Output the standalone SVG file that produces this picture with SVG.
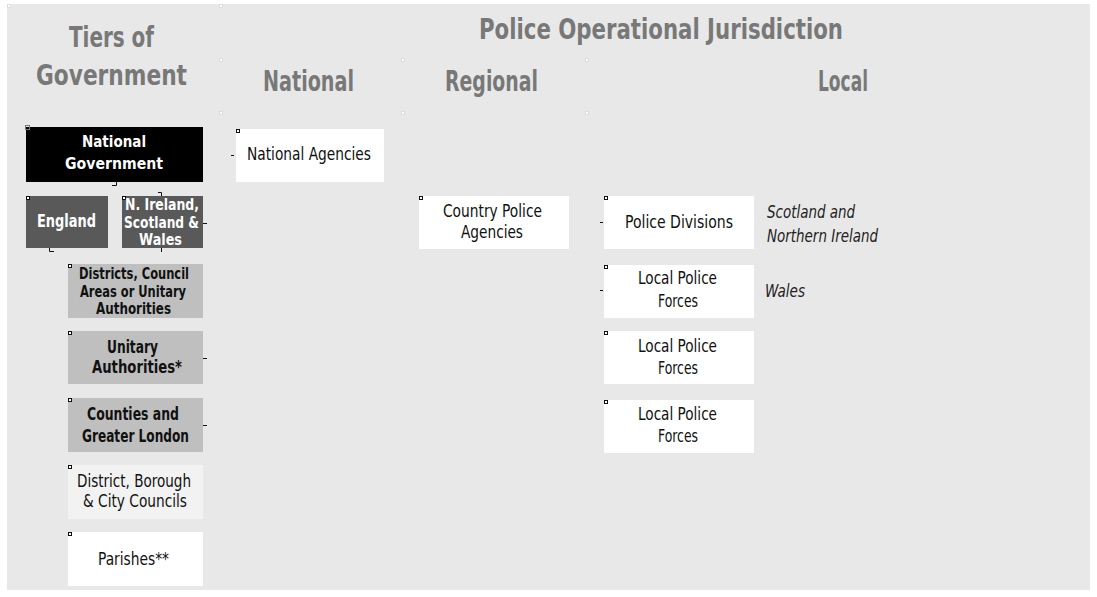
<svg xmlns="http://www.w3.org/2000/svg" width="1097" height="597" viewBox="0 0 1097 597">
<style>
text{font-family:"Liberation Sans Narrow","DejaVu Sans Condensed","Liberation Sans",sans-serif}
.t{font-size:29px;font-weight:bold;fill:#787878}
.r{font-size:18px;fill:#111}
.b{font-size:17px;font-weight:bold;fill:#111}
.w{font-size:16px;font-weight:bold;fill:#fff}
.i{font-size:18px;font-style:italic;fill:#222}
.h{fill:#fff;stroke:#111;stroke-width:1}
.hh{fill:#fff;stroke:#d8d8d8;stroke-width:0.8}
.tick{fill:none;stroke:#111;stroke-width:1}
</style>
<rect x="7" y="4" width="1083" height="586" fill="#e8e8e8"/>
<g id="header-handles">
<rect class="hh" x="7.5" y="4.5" width="3" height="3"/>
<rect class="hh" x="219.5" y="4.5" width="3" height="3"/>
<rect class="hh" x="219.5" y="58.5" width="3" height="3"/>
<rect class="hh" x="219.5" y="111.5" width="3" height="3"/>
<rect class="hh" x="401.5" y="58.5" width="3" height="3"/>
<rect class="hh" x="401.5" y="111.5" width="3" height="3"/>
<rect class="hh" x="585.5" y="58.5" width="3" height="3"/>
<rect class="hh" x="585.5" y="111.5" width="3" height="3"/>
</g>
<g id="titles">
<text class="t" x="69" y="47" textLength="85" lengthAdjust="spacingAndGlyphs">Tiers of</text>
<text class="t" x="36" y="85" textLength="151" lengthAdjust="spacingAndGlyphs">Government</text>
<text class="t" x="479" y="39" textLength="364" lengthAdjust="spacingAndGlyphs">Police Operational Jurisdiction</text>
<text class="t" x="263" y="91" textLength="91" lengthAdjust="spacingAndGlyphs">National</text>
<text class="t" x="445" y="91" textLength="93" lengthAdjust="spacingAndGlyphs">Regional</text>
<text class="t" x="818" y="91" textLength="50" lengthAdjust="spacingAndGlyphs">Local</text>
</g>
<g id="connectors">
<path class="tick" d="M116.5,182 V185.5 H112"/>
<path class="tick" d="M158,192.5 H161.5 V196"/>
<path class="tick" d="M49.5,248 V251.5 H54"/>
<path class="tick" d="M161.5,248 V252"/>
<path class="tick" d="M203,223.5 H207"/>
<path class="tick" d="M203,358.5 H207"/>
<path class="tick" d="M203,425.5 H207"/>
<path class="tick" d="M231,155.5 H234"/>
<path class="tick" d="M600,222.5 H603"/>
<path class="tick" d="M600,290.5 H603"/>
</g>
<g id="national-government">
<rect x="26" y="127" width="177" height="55" fill="#000"/>
<rect x="25.5" y="125.5" width="4" height="4" fill="none" stroke="#777" stroke-width="1"/>
<text class="w" x="82" y="147" textLength="64" lengthAdjust="spacingAndGlyphs">National</text>
<text class="w" x="65" y="169" textLength="98" lengthAdjust="spacingAndGlyphs">Government</text>
</g>
<g id="england">
<rect x="26" y="196" width="82" height="52" fill="#595959"/>
<rect class="h" x="26.5" y="196.5" width="3" height="3"/>
<text class="w" x="37" y="227" style="font-size:18px" textLength="59" lengthAdjust="spacingAndGlyphs">England</text>
</g>
<g id="ni-scotland-wales">
<rect x="122" y="196" width="81" height="52" fill="#595959"/>
<rect class="h" x="122.5" y="196.5" width="3" height="3"/>
<text class="w" x="125" y="210" style="font-size:15px" textLength="74" lengthAdjust="spacingAndGlyphs">N. Ireland,</text>
<text class="w" x="124" y="227.5" style="font-size:15px" textLength="75" lengthAdjust="spacingAndGlyphs">Scotland &amp;</text>
<text class="w" x="139" y="245" style="font-size:15px" textLength="43" lengthAdjust="spacingAndGlyphs">Wales</text>
</g>
<g id="districts-council-areas">
<rect x="68" y="264" width="135" height="54" fill="#bfbfbf"/>
<rect class="h" x="68.5" y="264.5" width="3" height="3"/>
<text class="b" x="79" y="279" style="font-size:15px" textLength="110" lengthAdjust="spacingAndGlyphs">Districts, Council</text>
<text class="b" x="80" y="296.5" style="font-size:15px" textLength="106" lengthAdjust="spacingAndGlyphs">Areas or Unitary</text>
<text class="b" x="96" y="314" style="font-size:15px" textLength="75" lengthAdjust="spacingAndGlyphs">Authorities</text>
</g>
<g id="unitary-authorities">
<rect x="68" y="331" width="135" height="53" fill="#bfbfbf"/>
<rect class="h" x="68.5" y="331.5" width="3" height="3"/>
<text class="b" x="107" y="353" textLength="51" lengthAdjust="spacingAndGlyphs">Unitary</text>
<text class="b" x="92" y="373" textLength="90" lengthAdjust="spacingAndGlyphs">Authorities*</text>
</g>
<g id="counties">
<rect x="68" y="398" width="135" height="54" fill="#bfbfbf"/>
<rect class="h" x="68.5" y="398.5" width="3" height="3"/>
<text class="b" x="87" y="420" textLength="92" lengthAdjust="spacingAndGlyphs">Counties and</text>
<text class="b" x="82" y="442" textLength="107" lengthAdjust="spacingAndGlyphs">Greater London</text>
</g>
<g id="district-borough-city">
<rect x="68" y="465" width="135" height="54" fill="#f2f2f2"/>
<rect class="h" x="68.5" y="465.5" width="3" height="3"/>
<text class="r" x="77" y="487" textLength="114" lengthAdjust="spacingAndGlyphs">District, Borough</text>
<text class="r" x="83" y="507" textLength="104" lengthAdjust="spacingAndGlyphs">&amp; City Councils</text>
</g>
<g id="parishes">
<rect x="68" y="532" width="135" height="54" fill="#fff"/>
<rect class="h" x="68.5" y="532.5" width="3" height="3"/>
<text class="r" x="98" y="565" textLength="71" lengthAdjust="spacingAndGlyphs">Parishes**</text>
</g>
<g id="national-agencies">
<rect x="236" y="129" width="148" height="53" fill="#fff"/>
<rect class="h" x="236.5" y="129.5" width="3" height="3"/>
<text class="r" x="247" y="160" textLength="124" lengthAdjust="spacingAndGlyphs">National Agencies</text>
</g>
<g id="country-police-agencies">
<rect x="419" y="196" width="150" height="53" fill="#fff"/>
<rect class="h" x="419.5" y="196.5" width="3" height="3"/>
<text class="r" x="443" y="217" textLength="99" lengthAdjust="spacingAndGlyphs">Country Police</text>
<text class="r" x="461" y="238" textLength="62" lengthAdjust="spacingAndGlyphs">Agencies</text>
</g>
<g id="police-divisions">
<rect x="604" y="196" width="150" height="53" fill="#fff"/>
<rect class="h" x="604.5" y="196.5" width="3" height="3"/>
<text class="r" x="625" y="228" textLength="108" lengthAdjust="spacingAndGlyphs">Police Divisions</text>
</g>
<g id="local-police-forces-1">
<rect x="604" y="265" width="150" height="53" fill="#fff"/>
<rect class="h" x="604.5" y="265.5" width="3" height="3"/>
<text class="r" x="638" y="284" textLength="79" lengthAdjust="spacingAndGlyphs">Local Police</text>
<text class="r" x="658" y="307" textLength="40" lengthAdjust="spacingAndGlyphs">Forces</text>
</g>
<g id="local-police-forces-2">
<rect x="604" y="331" width="150" height="53" fill="#fff"/>
<rect class="h" x="604.5" y="331.5" width="3" height="3"/>
<text class="r" x="638" y="352" textLength="79" lengthAdjust="spacingAndGlyphs">Local Police</text>
<text class="r" x="658" y="374" textLength="40" lengthAdjust="spacingAndGlyphs">Forces</text>
</g>
<g id="local-police-forces-3">
<rect x="604" y="400" width="150" height="53" fill="#fff"/>
<rect class="h" x="604.5" y="400.5" width="3" height="3"/>
<text class="r" x="638" y="420" textLength="79" lengthAdjust="spacingAndGlyphs">Local Police</text>
<text class="r" x="658" y="442" textLength="40" lengthAdjust="spacingAndGlyphs">Forces</text>
</g>
<g id="notes">
<text class="i" x="767" y="218" textLength="88" lengthAdjust="spacingAndGlyphs">Scotland and</text>
<text class="i" x="767" y="242" textLength="111" lengthAdjust="spacingAndGlyphs">Northern Ireland</text>
<text class="i" x="765" y="297" textLength="40" lengthAdjust="spacingAndGlyphs">Wales</text>
</g>
</svg>
